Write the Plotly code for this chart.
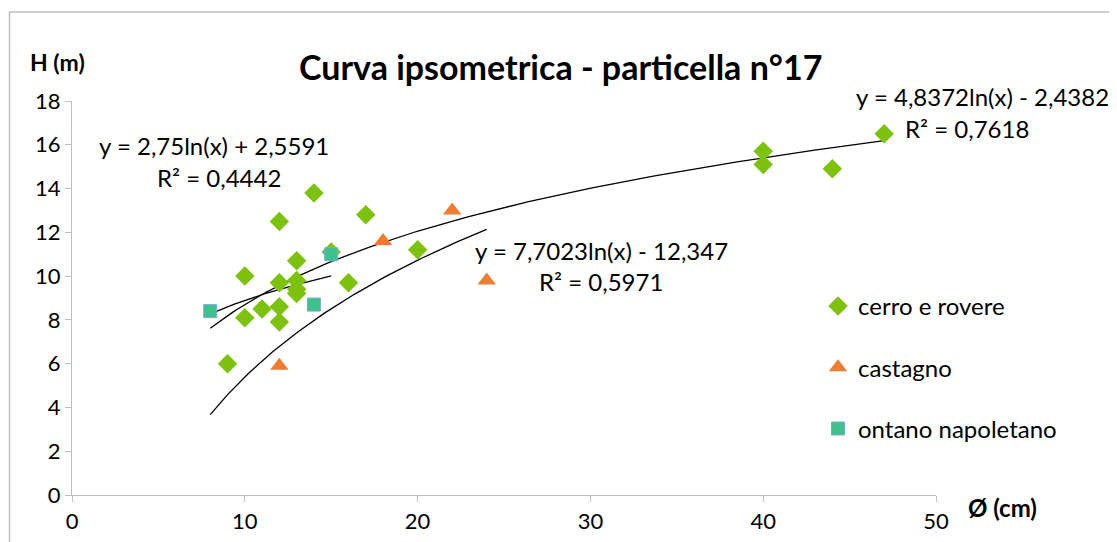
import numpy as np
import plotly.graph_objects as go

# --- data ---
cerro_x = [9, 10, 10, 11, 12, 12, 12, 12, 13, 13, 13, 13, 14, 15, 16, 17, 20, 40, 40, 44, 47]
cerro_y = [6.0, 10.0, 8.1, 8.5, 12.5, 9.7, 8.6, 7.9, 10.7, 9.8, 9.4, 9.2, 13.8, 11.1, 9.7, 12.8, 11.2, 15.7, 15.1, 14.9, 16.5]
cast_x = [12, 18, 22, 24]
cast_y = [5.9, 11.6, 13.0, 9.8]
ont_x = [8, 14, 15]
ont_y = [8.4, 8.7, 11.0]

# trendline coefficients (y = a ln(x) + b) and x ranges as displayed
trend_cerro = (4.8372, -2.4382, 8, 47)
trend_cast = (7.7023, -12.347, 8, 24)
trend_ont = (2.75, 2.5591, 8, 15)

x_ticks = [0, 10, 20, 30, 40, 50]
y_ticks = [0, 2, 4, 6, 8, 10, 12, 14, 16, 18]

FONT = "Lato"
TXT = "#000000"

fig = go.Figure()

def trend(params):
    a, b, x0, x1 = params
    xs = np.linspace(x0, x1, 120)
    return xs, a * np.log(xs) + b

for p in (trend_cerro, trend_cast, trend_ont):
    xs, ys = trend(p)
    fig.add_trace(go.Scatter(x=xs, y=ys, mode="lines", line=dict(color="black", width=1.3),
                             showlegend=False, hoverinfo="skip"))

fig.add_trace(go.Scatter(x=cerro_x, y=cerro_y, mode="markers", name="cerro e rovere",
                         legendgroup="a",
                         marker=dict(symbol="diamond", size=15, color="#7DC20E",
                                     line=dict(width=0))))
fig.add_trace(go.Scatter(x=cast_x, y=cast_y, mode="markers", name="castagno",
                         legendgroup="b",
                         marker=dict(symbol="triangle-up", size=16, color="#EE7D31",
                                     line=dict(width=0))))
fig.add_trace(go.Scatter(x=ont_x, y=ont_y, mode="markers", name="ontano napoletano",
                         legendgroup="c",
                         marker=dict(symbol="square", size=13, color="#3CC28A",
                                     line=dict(width=1, color="#79A8E0"))))

# page offset of 8px (body margin) -> work in page pixel coords
OFF = 8
W, H = 1117 - OFF, 542 - OFF
L, T = 72 - OFF, 101 - OFF
pw, ph = 936 - 72, 495 - 101
R, B = W - L - pw, H - T - ph

def px(x):
    return (x - OFF - L) / pw

def py(y):
    return (T + ph - (y - OFF)) / ph

fig.update_layout(
    width=W, height=H,
    margin=dict(l=L, r=R, t=T, b=B, autoexpand=False),
    paper_bgcolor="white", plot_bgcolor="white",
    font=dict(family=FONT, color=TXT),
    showlegend=True,
    legend=dict(x=px(818), y=py(284), xanchor="left", yanchor="top",
                font=dict(size=24, family=FONT, color=TXT),
                tracegroupgap=27, itemwidth=30,
                bgcolor="rgba(0,0,0,0)"),
    xaxis=dict(range=[0, 50], tickvals=x_ticks, showgrid=False, zeroline=False,
               showline=True, linecolor="#BFBFBF", linewidth=1.2,
               ticks="outside", ticklen=6, tickcolor="#BFBFBF",
               tickfont=dict(size=22, color=TXT, family=FONT)),
    yaxis=dict(range=[0, 18], tickvals=y_ticks, showgrid=False, zeroline=False,
               showline=True, linecolor="#BFBFBF", linewidth=1.2,
               ticks="outside", ticklen=6, tickcolor="#BFBFBF",
               tickfont=dict(size=22, color=TXT, family=FONT)),
)

ann = [
    dict(text="<b>Curva ipsometrica - particella n°17</b>", x=px(560), y=py(66), size=34),
    dict(text="<b>H (m)</b>", x=px(57), y=py(62), size=23),
    dict(text="<b>Ø (cm)</b>", x=px(1002), y=py(507), size=24),
    dict(text="y = 4,8372ln(x) - 2,4382", x=px(982), y=py(97), size=24),
    dict(text="R² = 0,7618", x=px(967), y=py(128), size=24),
    dict(text="y = 2,75ln(x) + 2,5591", x=px(214), y=py(145), size=24),
    dict(text="R² = 0,4442", x=px(219), y=py(177), size=24),
    dict(text="y = 7,7023ln(x) - 12,347", x=px(601), y=py(250), size=24),
    dict(text="R² = 0,5971", x=px(601), y=py(281), size=24),
]
for a in ann:
    fig.add_annotation(text=a["text"], x=a["x"], y=a["y"], xref="paper", yref="paper",
                       xanchor="center", yanchor="middle", showarrow=False,
                       font=dict(size=a["size"], family=FONT, color=TXT))

# outer chart frame (cropped at right/bottom)
fig.add_shape(type="rect", xref="paper", yref="paper",
              x0=px(9.5), x1=px(1130), y0=py(560), y1=py(12),
              line=dict(color="#BFBFBF", width=1.5), fillcolor="rgba(0,0,0,0)", layer="below")

fig.write_html("out.html")
